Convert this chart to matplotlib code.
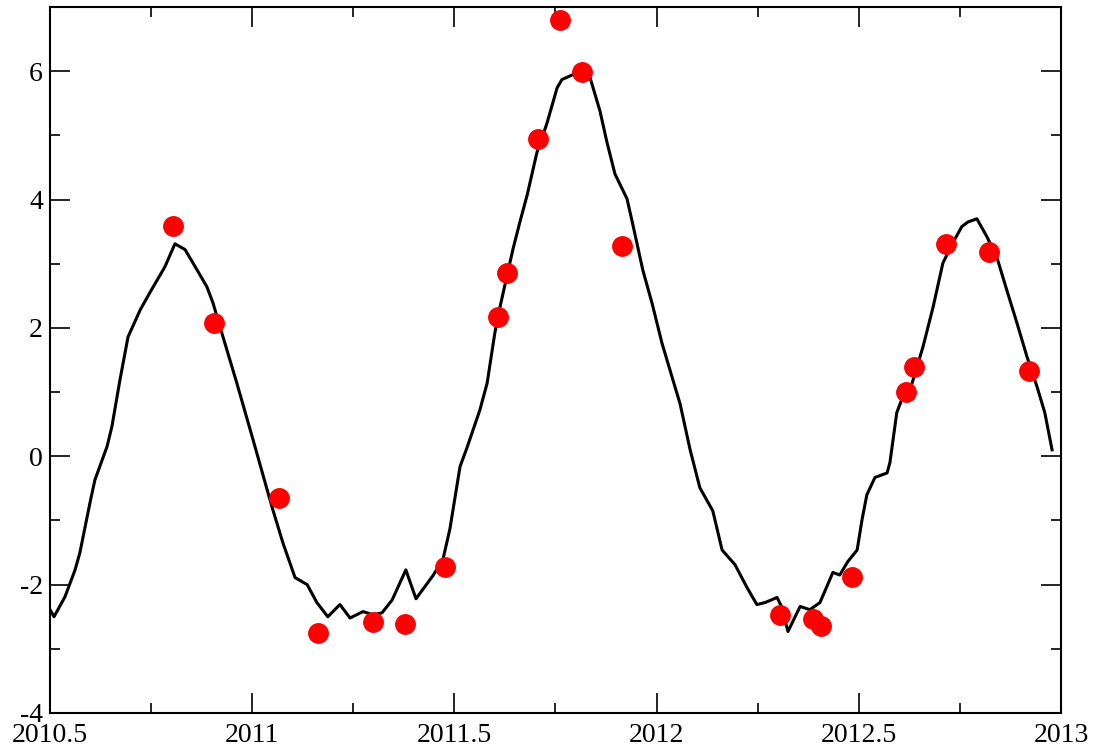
import matplotlib
matplotlib.use("Agg")
import matplotlib.pyplot as plt
from matplotlib.ticker import MultipleLocator

# smoothed curve
line_t = [2010.500, 2010.510, 2010.537, 2010.562, 2010.574, 2010.599, 2010.611, 2010.641,
          2010.653, 2010.673, 2010.693, 2010.723, 2010.747, 2010.784, 2010.809, 2010.834,
          2010.864, 2010.888, 2010.903, 2010.925, 2010.962, 2011.002, 2011.049, 2011.076,
          2011.106, 2011.136, 2011.160, 2011.187, 2011.217, 2011.242, 2011.274, 2011.299,
          2011.321, 2011.346, 2011.380, 2011.405, 2011.447, 2011.472, 2011.489, 2011.514,
          2011.531, 2011.563, 2011.581, 2011.600, 2011.613, 2011.625, 2011.645, 2011.662,
          2011.680, 2011.704, 2011.729, 2011.754, 2011.766, 2011.791, 2011.811, 2011.835,
          2011.860, 2011.877, 2011.897, 2011.927, 2011.942, 2011.966, 2011.989, 2012.013,
          2012.038, 2012.058, 2012.083, 2012.107, 2012.139, 2012.162, 2012.194, 2012.224,
          2012.248, 2012.268, 2012.298, 2012.308, 2012.325, 2012.355, 2012.379, 2012.404,
          2012.436, 2012.453, 2012.473, 2012.496, 2012.508, 2012.520, 2012.540, 2012.570,
          2012.577, 2012.594, 2012.609, 2012.632, 2012.659, 2012.684, 2012.708, 2012.733,
          2012.755, 2012.770, 2012.792, 2012.817, 2012.842, 2012.866, 2012.891, 2012.916,
          2012.941, 2012.960, 2012.978]
line_v = [-2.39, -2.50, -2.19, -1.77, -1.50, -0.72, -0.37, 0.15,
          0.46, 1.19, 1.86, 2.28, 2.55, 2.95, 3.31, 3.22,
          2.90, 2.64, 2.39, 1.92, 1.14, 0.26, -0.79, -1.35,
          -1.89, -2.00, -2.28, -2.50, -2.31, -2.52, -2.42, -2.47,
          -2.44, -2.24, -1.77, -2.22, -1.86, -1.60, -1.13, -0.16,
          0.13, 0.72, 1.14, 1.92, 2.33, 2.67, 3.23, 3.65,
          4.07, 4.73, 5.19, 5.74, 5.87, 5.94, 6.00, 5.91,
          5.38, 4.90, 4.40, 4.01, 3.59, 2.90, 2.38, 1.77,
          1.24, 0.82, 0.10, -0.49, -0.85, -1.46, -1.69, -2.05,
          -2.31, -2.28, -2.20, -2.33, -2.73, -2.34, -2.39, -2.28,
          -1.81, -1.85, -1.64, -1.46, -0.99, -0.60, -0.33, -0.26,
          -0.10, 0.68, 0.93, 1.14, 1.71, 2.33, 3.01, 3.33,
          3.58, 3.65, 3.70, 3.42, 3.09, 2.59, 2.08, 1.55,
          1.08, 0.68, 0.10]

# observations
obs_t = [2010.804, 2010.906, 2011.066, 2011.163, 2011.299, 2011.378, 2011.477, 2011.608,
         2011.630, 2011.707, 2011.761, 2011.815, 2011.914, 2012.305, 2012.387, 2012.407,
         2012.483, 2012.617, 2012.636, 2012.716, 2012.822, 2012.921]
obs_v = [3.59, 2.08, -0.65, -2.75, -2.58, -2.61, -1.72, 2.17,
         2.86, 4.95, 6.80, 5.98, 3.28, -2.47, -2.53, -2.64,
         -1.88, 1.00, 1.39, 3.31, 3.19, 1.33]

xlabels = ['2010.5', '2011', '2011.5', '2012', '2012.5', '2013']
ylabels = ['-4', '-2', '0', '2', '4', '6']

plt.rcParams['font.family'] = ['Liberation Serif', 'DejaVu Serif']

fig = plt.figure(figsize=(10.94, 7.51), dpi=100)
ax = fig.add_axes([0.0457, 0.0506, 0.9241, 0.9401])

ax.plot(line_t, line_v, color='black', lw=2.2, zorder=2)
ax.plot(obs_t, obs_v, 'o', color='#ff0000', markersize=14, zorder=3, clip_on=False)

ax.set_xlim(2010.5, 2013)
ax.set_ylim(-4, 7)
ax.xaxis.set_minor_locator(MultipleLocator(0.25))
ax.yaxis.set_minor_locator(MultipleLocator(1))
ax.set_xticks([float(s) for s in xlabels])
ax.set_xticklabels(xlabels)
ax.set_yticks([float(s) for s in ylabels])
ax.set_yticklabels(ylabels)

ax.tick_params(which='both', direction='in', top=True, right=True, width=1.2, labelsize=20)
ax.tick_params(which='major', length=14.5)
ax.tick_params(which='minor', length=7.2)
ax.tick_params(axis='x', pad=7)
ax.tick_params(axis='y', pad=5)
for s in ax.spines.values():
    s.set_linewidth(1.5)

fig.savefig('out.png', dpi=100)
